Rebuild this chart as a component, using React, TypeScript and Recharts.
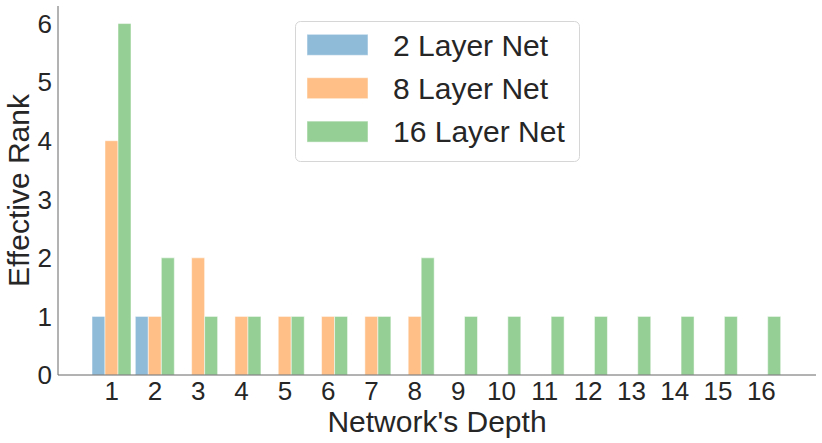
import React from 'react';
import { BarChart, Bar, XAxis, YAxis, Legend } from 'recharts';

const depths = ['1', '2', '3', '4', '5', '6', '7', '8', '9', '10', '11', '12', '13', '14', '15', '16'];
const net2 = [1, 1, null, null, null, null, null, null, null, null, null, null, null, null, null, null];
const net8 = [4, 1, 2, 1, 1, 1, 1, 1, null, null, null, null, null, null, null, null];
const net16 = [6, 2, 1, 1, 1, 1, 1, 2, 1, 1, 1, 1, 1, 1, 1, 1];
const yTicks = [0, 1, 2, 3, 4, 5, 6];

const seriesNames = ['2 Layer Net', '8 Layer Net', '16 Layer Net'];
const seriesColors = ['#8fbbd9', '#ffbf86', '#95cf95'];

const data = depths.map((d, i) => ({ depth: d, a: net2[i], b: net8[i], c: net16[i] }));

const FONT = 'Liberation Sans, Arial, Helvetica, sans-serif';
const TEXT = '#262626';

const LegendBox = () => (
  <svg width={286} height={142} style={{ display: 'block', overflow: 'visible' }}>
    <rect x={0.5} y={0.5} width={284} height={140} rx={5} ry={5} fill="#ffffff" fillOpacity={0.8} stroke="#d6d6d6" strokeWidth={1} />
    {seriesNames.map((n, i) => (
      <g key={n}>
        <rect x={12} y={13.3 + i * 43.4} width={61} height={21} fill={seriesColors[i]} stroke="#ffffff" strokeOpacity={0.5} />
        <text x={98} y={34.5 + i * 43.4} fontSize={30} fill={TEXT} fontFamily={FONT}>{n}</text>
      </g>
    ))}
  </svg>
);

export default function App() {
  return (
    <div style={{ position: 'absolute', left: 0, top: 0 }}>
      <BarChart
        width={822}
        height={443}
        data={data}
        margin={{ top: 6, right: 6, bottom: 0, left: 0 }}
        barGap={0}
        barSize={13}
        style={{ fontFamily: FONT }}
      >
        <XAxis
          dataKey="depth"
          height={68}
          padding={{ left: 32, right: 33 }}
          tickLine={false}
          tickSize={0}
          tickMargin={7}
          axisLine={{ stroke: '#666666', strokeWidth: 1 }}
          tick={{ fontSize: 26, fill: TEXT }}
          interval={0}
          label={{ value: "Network's Depth", position: 'insideBottom', offset: 11, fontSize: 30, fill: TEXT }}
        />
        <XAxis
          xAxisId="top"
          dataKey="depth"
          orientation="top"
          height={0}
          tick={false}
          tickLine={false}
          axisLine={{ stroke: '#aaaaaa', strokeWidth: 1 }}
        />
        <YAxis
          type="number"
          domain={[0, 6.3]}
          ticks={yTicks}
          width={58}
          tickLine={false}
          tickSize={0}
          tickMargin={6}
          allowDataOverflow
          axisLine={{ stroke: '#666666', strokeWidth: 1 }}
          tick={{ fontSize: 26, fill: TEXT }}
          label={{ value: 'Effective Rank', angle: -90, position: 'insideLeft', offset: 18, fontSize: 30, fill: TEXT, style: { textAnchor: 'middle' } }}
        />
        <YAxis
          yAxisId="right"
          orientation="right"
          width={0}
          domain={[0, 6.3]}
          tick={false}
          tickLine={false}
          axisLine={{ stroke: '#aaaaaa', strokeWidth: 1 }}
        />
        <Legend
          layout="vertical"
          align="center"
          verticalAlign="middle"
          content={() => <LegendBox />}
          wrapperStyle={{ position: 'absolute', left: 295, top: 21, width: 286, height: 142 }}
        />
        <Bar dataKey="a" name={seriesNames[0]} fill={seriesColors[0]} stroke="#ffffff" strokeOpacity={0.5} isAnimationActive={false} />
        <Bar dataKey="b" name={seriesNames[1]} fill={seriesColors[1]} stroke="#ffffff" strokeOpacity={0.5} isAnimationActive={false} />
        <Bar dataKey="c" name={seriesNames[2]} fill={seriesColors[2]} stroke="#ffffff" strokeOpacity={0.5} isAnimationActive={false} />
      </BarChart>
    </div>
  );
}
